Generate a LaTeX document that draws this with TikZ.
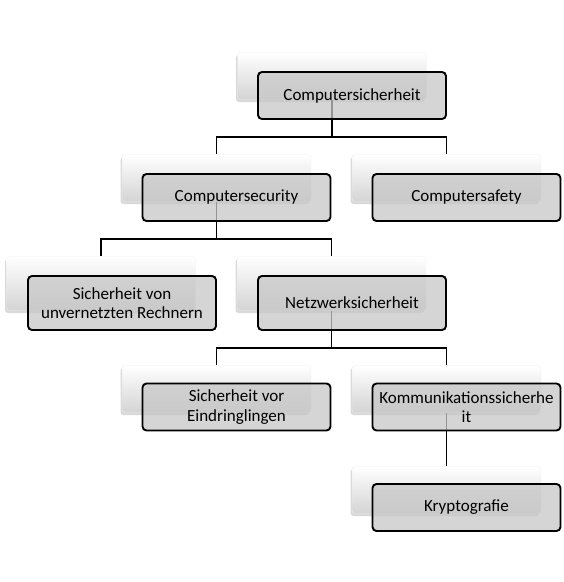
\documentclass[tikz,border=0pt]{standalone}
\usepackage{fontspec}
\setmainfont{Carlito}
\usetikzlibrary{calc,shadows}
\tikzset{
  backbox/.style  = {rounded corners=3pt, draw=black!6, top color=white, bottom color=black!17,
                     minimum width=189pt, minimum height=47pt,
                     drop shadow={shadow xshift=-1.5pt, shadow yshift=-2.5pt, opacity=.3}},
  frontbox/.style = {draw, line width=1.9pt, rounded corners=4pt, fill=black!22,
                     fill opacity=.75, text opacity=1, minimum width=188pt, minimum height=47pt,
                     align=center, inner sep=2pt, font=\fontsize{17}{19.5}\selectfont},
  tall/.style     = {minimum height=54pt},
  wire/.style     = {line width=1.9pt},
}

\begin{document}
\begin{tikzpicture}[x=1pt,y=-1pt]
  \useasboundingbox (0,0) rectangle (564,582);
  % back boxes
  \node[backbox] (rootb)  at (332,76)      {};
  \node[backbox] (csecb)  at (216.5,178)   {};
  \node[backbox] (csafeb) at (446.5,178)   {};
  \node[backbox,tall] (unvb)  at (101,283.5)   {};
  \node[backbox,tall] (netzb) at (331.5,283.5) {};
  \node[backbox] (eindb)  at (216.5,389)   {};
  \node[backbox] (kommb)  at (446.5,389)   {};
  \node[backbox] (kryptb) at (446.5,490)   {};
  % connectors
  \draw[wire] (rootb.south) -- ++(0,37) -| (csecb.north);
  \draw[wire] (rootb.south) ++(0,37) -| (csafeb.north);
  \draw[wire] (csecb.south) -- ++(0,37) -| (unvb.north);
  \draw[wire] (csecb.south) ++(0,37) -| (netzb.north);
  \draw[wire] (netzb.south) -- ++(0,37.5) -| (eindb.north);
  \draw[wire] (netzb.south) ++(0,37.5) -| (kommb.north);
  \draw[wire] (kommb.south) -- (kryptb.north);
  % front boxes
  \node[frontbox] (root)  at ($(rootb)+(20,19.5)$)  {Computersicherheit};
  \node[frontbox] (csec)  at ($(csecb)+(20,19.5)$)  {Computersecurity};
  \node[frontbox] (csafe) at ($(csafeb)+(20,19.5)$) {Computersafety};
  \node[frontbox,tall] (unv)  at ($(unvb)+(21,19.5)$)  {Sicherheit von\\unvernetzten Rechnern};
  \node[frontbox,tall] (netz) at ($(netzb)+(20.5,19.5)$) {Netzwerksicherheit};
  \node[frontbox] (eind)  at ($(eindb)+(20,18)$)    {Sicherheit vor\\Eindringlingen};
  \node[frontbox] (komm)  at ($(kommb)+(20,18)$)    {Kommunikationssicherhe\\it};
  \node[frontbox] (krypt) at ($(kryptb)+(20,17.5)$) {Kryptografie};
\end{tikzpicture}
\end{document}
